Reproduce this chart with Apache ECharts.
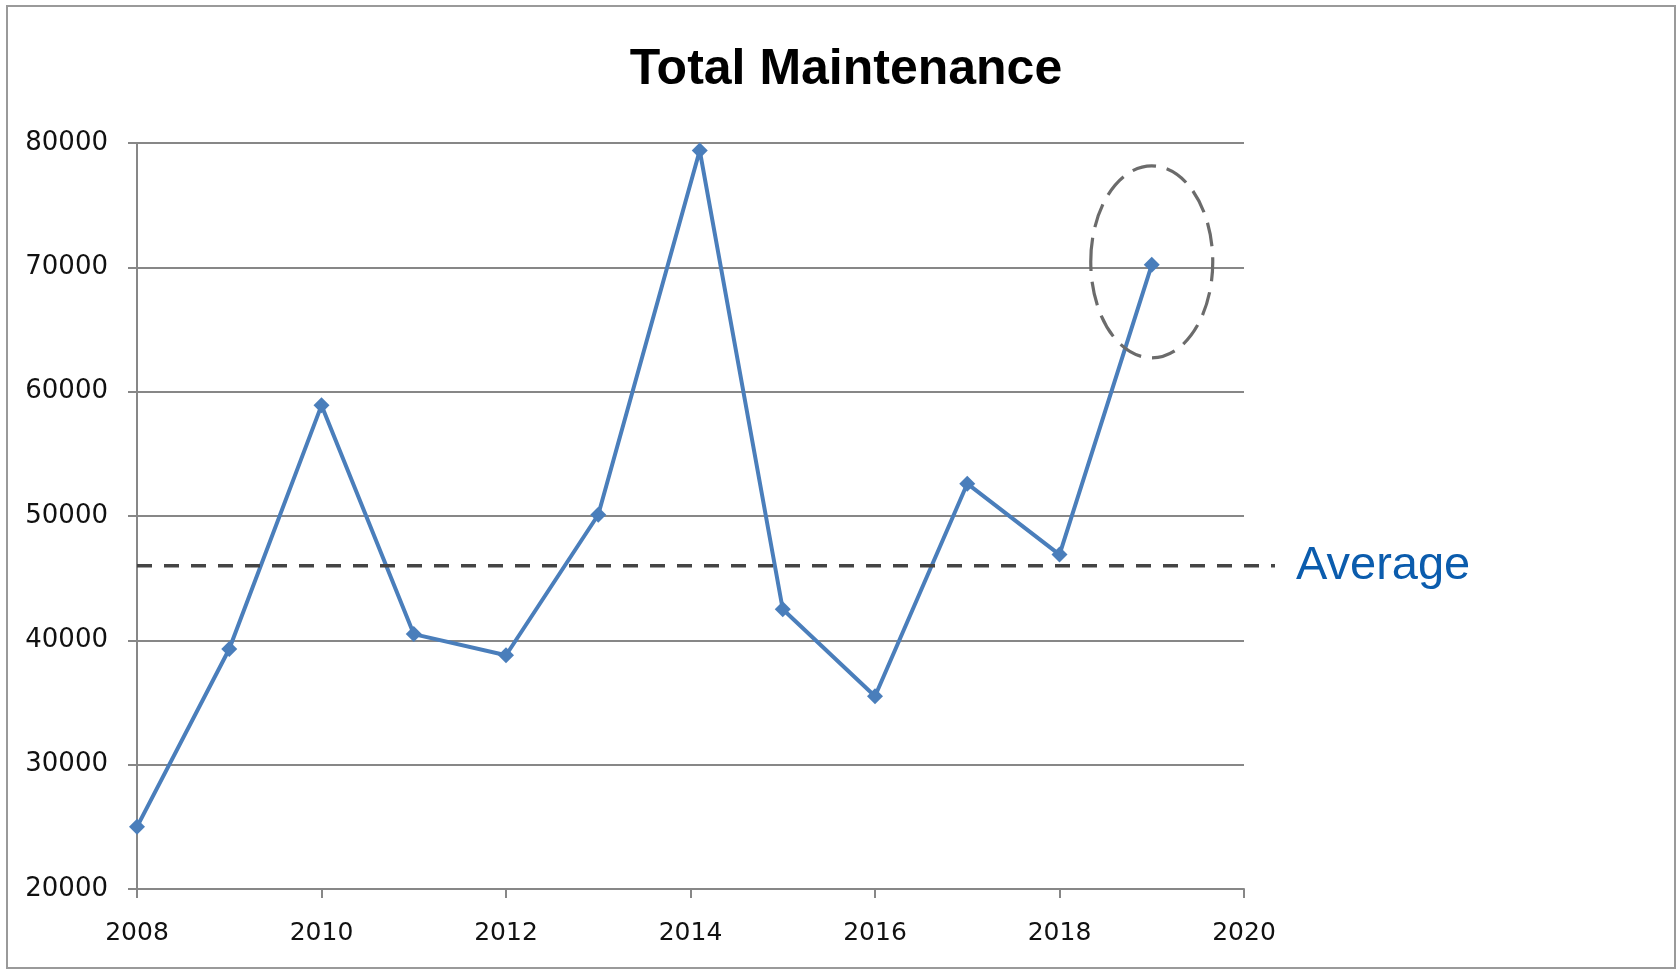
<!DOCTYPE html>
<html>
<head>
<meta charset="utf-8">
<script src="https://cdn.jsdelivr.net/npm/echarts@6/dist/echarts.min.js"></script>
<style>
html,body{margin:0;padding:0;background:#fff;}
#main{width:1680px;height:970px;}
</style>
</head>
<body>
<div id="main"></div>
<script>
// Data
const years = [2008, 2009, 2010, 2011, 2012, 2013, 2014.1, 2015, 2016, 2017, 2018, 2019];
const maintenance = [25000, 39300, 58900, 40500, 38800, 50100, 79400, 42500, 35500, 52600, 46900, 70200];
const averageValue = 46000;
const highlightIndex = 11;
const titleText = 'Total Maintenance';
const averageLabel = 'Average';
const xMin = 2008, xMax = 2020, xStep = 2;
const yMin = 20000, yMax = 80000, yStep = 10000;

const chart = echarts.init(document.getElementById('main'), null, {renderer: 'canvas'});
const gridColor = '#878787';
const option = {
  backgroundColor: '#ffffff',
  animation: false,
  title: {
    text: titleText,
    left: 841,
    top: 40,
    textAlign: 'center',
    textStyle: {fontFamily: 'Liberation Sans', fontWeight: 'bold', fontSize: 50, color: '#000'}
  },
  grid: {left: 137, right: 436, top: 143, bottom: 81, containLabel: false},
  xAxis: {
    type: 'value', min: xMin, max: xMax, interval: xStep,
    axisLine: {show: true, lineStyle: {color: gridColor, width: 2}},
    axisTick: {show: true, inside: false, length: 9, lineStyle: {color: gridColor, width: 2}},
    splitLine: {show: false},
    axisLabel: {margin: 32, fontFamily: 'DejaVu Sans', fontSize: 25, color: '#111', formatter: v => String(v)}
  },
  yAxis: {
    type: 'value', min: yMin, max: yMax, interval: yStep,
    axisLine: {show: true, lineStyle: {color: gridColor, width: 2}},
    axisTick: {show: true, inside: false, length: 9, lineStyle: {color: gridColor, width: 2}},
    splitLine: {show: true, lineStyle: {color: gridColor, width: 2}},
    axisLabel: {margin: 29, fontFamily: 'DejaVu Sans', fontSize: 26, color: '#111', formatter: v => String(v)}
  },
  series: [{
    type: 'line',
    data: years.map((y, i) => [y, maintenance[i]]),
    symbol: 'diamond',
    symbolSize: 16,
    lineStyle: {color: '#4a7ebb', width: 4},
    itemStyle: {color: '#4a7ebb'},
    clip: false,
    z: 5
  }]
};
chart.setOption(option);

const avgStart = chart.convertToPixel({gridIndex: 0}, [xMin, averageValue]);
const avgEnd = chart.convertToPixel({gridIndex: 0}, [xMax, averageValue]);
const hp = chart.convertToPixel({gridIndex: 0}, [years[highlightIndex], maintenance[highlightIndex]]);

chart.setOption({
  graphic: [
    {
      type: 'rect', z: 0, silent: true,
      shape: {x: 7, y: 6, width: 1668, height: 962},
      style: {fill: null, stroke: '#9a9a9a', lineWidth: 2}
    },
    {
      type: 'line', z: 10, silent: true,
      shape: {x1: avgStart[0], y1: avgStart[1], x2: avgEnd[0] + 31, y2: avgEnd[1]},
      style: {stroke: '#444444', lineWidth: 3.5, lineDash: [15, 12]}
    },
    {
      type: 'text', z: 10, silent: true,
      x: avgEnd[0] + 52, y: avgEnd[1],
      style: {text: averageLabel, fill: '#0b5cad', fontFamily: 'Liberation Sans', fontSize: 47, verticalAlign: 'middle', align: 'left'}
    },
    {
      type: 'ellipse', z: 10, silent: true,
      shape: {cx: hp[0], cy: hp[1] - 3, rx: 61, ry: 96},
      style: {fill: null, stroke: '#6b6b6b', lineWidth: 3.2, lineDash: [24, 11]}
    }
  ]
});
</script>
</body>
</html>
